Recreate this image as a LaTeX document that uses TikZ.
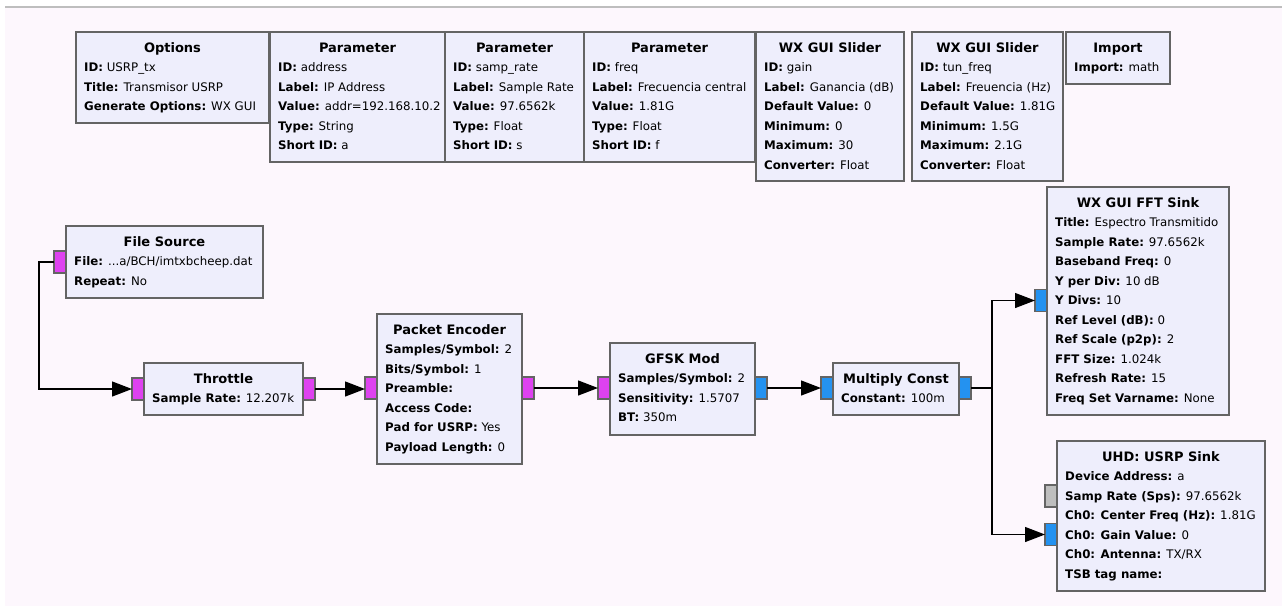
\documentclass[tikz,border=0pt]{standalone}
\usepackage{fontspec}
\setmainfont{DejaVu Sans}
\usetikzlibrary{arrows.meta,calc}
\definecolor{bg}{RGB}{253,247,253}
\definecolor{boxfill}{RGB}{238,238,252}
\definecolor{boxline}{RGB}{100,100,100}
\definecolor{pmag}{RGB}{222,66,240}
\definecolor{pblue}{RGB}{36,146,240}
\definecolor{pgray}{RGB}{190,190,190}
\newcommand\kv[2]{\textbf{#1:} #2}
% name, x1, y1, x2, y2, header, lines
\newcommand\blk[7]{%
  \node[blkbox, minimum width={#4-#2}, minimum height={#5-#3}, anchor=north west] (#1) at (#2,#3) {};
  \node[hdr] (#1-h) at ([yshift=-20.2pt]#1.north) {#6};
  \foreach \myl [count=\myi] in {#7}
    \node[bodytxt] (#1-l\myi) at ([shift={(8,{20+19.5*\myi})}]#1.north west) {\myl};
}
\begin{document}
\begin{tikzpicture}[x=1pt,y=-1pt,
  blkbox/.style={draw=boxline,fill=boxfill,line width=1.2pt,inner sep=0pt,outer sep=0pt},
  hdr/.style={font=\fontsize{13}{15}\selectfont\bfseries,anchor=base,inner sep=0pt},
  bodytxt/.style={font=\fontsize{11.8}{14}\selectfont,anchor=base west,inner sep=0pt},
  port/.style={draw=boxline,line width=1.1pt,minimum width=12pt,minimum height=22pt,inner sep=0pt,outer sep=0pt},
  pm/.style={port,fill=pmag},
  pb/.style={port,fill=pblue},
  pg/.style={port,fill=pgray},
  conn/.style={line width=1.3pt,-{Triangle[length=20pt,width=15pt]}}]
\useasboundingbox (0,0) rectangle (1282,606);
\fill[white] (0,0) rectangle (1282,606);
\fill[bg] (5,8) rectangle (1282,606);
\draw[pgray, line width=1.5pt] (5,7) -- (1282,7);

\blk{opt}{76}{32}{269}{123}{Options}{{\kv{ID}{USRP\_tx}},{\kv{Title}{Transmisor USRP}},{\kv{Generate Options}{WX GUI}}}
\blk{pa}{270}{32}{445}{162}{Parameter}{{\kv{ID}{address}},{\kv{Label}{IP Address}},{\kv{Value}{addr=192.168.10.2}},{\kv{Type}{String}},{\kv{Short ID}{a}}}
\blk{pb}{445}{32}{584}{162}{Parameter}{{\kv{ID}{samp\_rate}},{\kv{Label}{Sample Rate}},{\kv{Value}{97.6562k}},{\kv{Type}{Float}},{\kv{Short ID}{s}}}
\blk{pc}{584}{32}{755}{162}{Parameter}{{\kv{ID}{freq}},{\kv{Label}{Frecuencia central}},{\kv{Value}{1.81G}},{\kv{Type}{Float}},{\kv{Short ID}{f}}}
\blk{sa}{756}{32}{904}{181}{WX GUI Slider}{{\kv{ID}{gain}},{\kv{Label}{Ganancia (dB)}},{\kv{Default Value}{0}},{\kv{Minimum}{0}},{\kv{Maximum}{30}},{\kv{Converter}{Float}}}
\blk{sb}{912}{32}{1063}{181}{WX GUI Slider}{{\kv{ID}{tun\_freq}},{\kv{Label}{Freuencia (Hz)}},{\kv{Default Value}{1.81G}},{\kv{Minimum}{1.5G}},{\kv{Maximum}{2.1G}},{\kv{Converter}{Float}}}
\blk{imp}{1066}{32}{1170}{84}{Import}{{\kv{Import}{math}}}

\blk{fs}{66}{226}{263}{298}{File Source}{{\kv{File}{...a/BCH/imtxbcheep.dat}},{\kv{Repeat}{No}}}
\blk{th}{144}{363}{303}{415}{Throttle}{{\kv{Sample Rate}{12.207k}}}
\blk{pe}{377}{314}{522}{464}{Packet Encoder}{{\kv{Samples/Symbol}{2}},{\kv{Bits/Symbol}{1}},{\kv{Preamble}{}},{\kv{Access Code}{}},{\kv{Pad for USRP}{Yes}},{\kv{Payload Length}{0}}}
\blk{gf}{610}{343}{755}{435}{GFSK Mod}{{\kv{Samples/Symbol}{2}},{\kv{Sensitivity}{1.5707}},{\kv{BT}{350m}}}
\blk{mc}{833}{363}{959}{415}{Multiply Const}{{\kv{Constant}{100m}}}
\blk{fft}{1047}{187}{1229}{415}{WX GUI FFT Sink}{{\kv{Title}{Espectro Transmitido}},{\kv{Sample Rate}{97.6562k}},{\kv{Baseband Freq}{0}},{\kv{Y per Div}{10 dB}},{\kv{Y Divs}{10}},{\kv{Ref Level (dB)}{0}},{\kv{Ref Scale (p2p)}{2}},{\kv{FFT Size}{1.024k}},{\kv{Refresh Rate}{15}},{\kv{Freq Set Varname}{None}}}
\blk{us}{1057}{441}{1265}{591}{UHD: USRP Sink}{{\kv{Device Address}{a}},{\kv{Samp Rate (Sps)}{97.6562k}},{\kv{Ch0: Center Freq (Hz)}{1.81G}},{\kv{Ch0: Gain Value}{0}},{\kv{Ch0: Antenna}{TX/RX}},{\kv{TSB tag name}{}}}

% ports
\node[pm] (fs-out) at (60,262) {};
\node[pm] (th-in) at (138,389) {};
\node[pm] (th-out) at (309,389) {};
\node[pm] (pe-in) at (371,388) {};
\node[pm] (pe-out) at (528,388) {};
\node[pm] (gf-in) at (604,388) {};
\node[pb] (gf-out) at (761,388) {};
\node[pb] (mc-in) at (827,388) {};
\node[pb] (mc-out) at (965,388) {};
\node[pb] (fft-in) at (1041,300.5) {};
\node[pg] (us-g) at (1051,496) {};
\node[pb] (us-in) at (1051,534.5) {};

% connections
\coordinate (br) at (992,388);
\draw[conn] (fs-out.west) -- ++(-15,0) |- (th-in.west);
\draw[conn] (th-out.east) -- (pe-in.west |- th-out.east);
\draw[conn] (pe-out.east) -- (gf-in.west);
\draw[conn] (gf-out.east) -- (mc-in.west);
\draw[line width=1.3pt] (mc-out.east) -- (br);
\draw[conn] (br) |- (fft-in.west);
\draw[conn] (br) |- (us-in.west);
\end{tikzpicture}
\end{document}
